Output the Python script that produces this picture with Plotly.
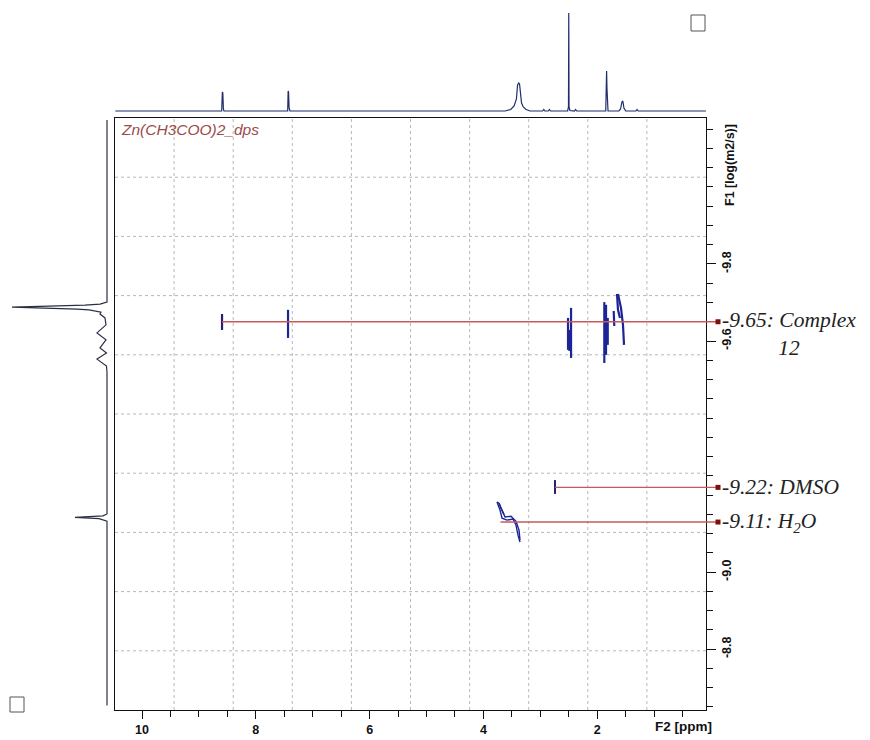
import plotly.graph_objects as go

# ---------------- data ----------------
# 1D 1H projection (top): chemical shift (ppm) vs intensity
h1_ppm = [10.47, 8.60, 8.588, 8.58, 8.57, 8.56, 7.44, 7.432, 7.425, 7.415, 7.40,
          3.62, 3.52, 3.46, 3.42, 3.40, 3.38, 3.365, 3.35, 3.33, 3.30, 3.25, 3.18,
          2.96, 2.94, 2.92, 2.86, 2.84, 2.82, 2.52, 2.505, 2.50, 2.495, 2.48, 2.40, 2.38, 2.36,
          1.85, 1.835, 1.828, 1.82, 1.81, 1.62, 1.59, 1.565, 1.55, 1.53, 1.50, 1.32, 1.30, 1.28, 0.09]
h1_int = [0, 0, 19, 18, 2, 0, 0, 20, 19, 3, 0,
          0, 1.5, 5, 12, 26, 28, 27, 16, 8, 4, 1.5, 0,
          0, 1.5, 0, 0, 1.5, 0, 0, 4, 98, 4, 0.5, 0, 1.5, 0,
          0, 40, 22, 3, 0, 0, 2, 9, 10, 3, 0, 0, 1.5, 0, 0]

# 1D diffusion projection (left): log D vs intensity
proj_logd = [-10.174, -9.701, -9.696, -9.693, -9.688, -9.686, -9.683, -9.681, -9.675, -9.670,
             -9.660, -9.642, -9.621, -9.603, -9.582, -9.569, -9.553, -9.535, -9.519,
             -9.151, -9.146, -9.142, -9.139, -9.132, -8.654]
proj_int = [0, 0, 7, 22, 95, 60, 30, 18, 6, 7,
            2, 1, 10, 1, 7, 0.5, 10, 0.5, 0,
            0, 4, 32, 8, 0, 0]

# 2D DOSY contours (ppm, log D) polylines
complex_contours = [
    ([8.594, 8.594], [-9.670, -9.629]),
    ([7.434, 7.434], [-9.681, -9.608]),
    ([2.460, 2.460], [-9.686, -9.556]),
    ([2.513, 2.513], [-9.660, -9.577]),
    ([2.487, 2.487], [-9.629, -9.574]),
    ([1.875, 1.875], [-9.701, -9.543]),
    ([1.845, 1.845], [-9.694, -9.564]),
    ([1.815, 1.815], [-9.660, -9.590]),
    ([1.710, 1.700], [-9.678, -9.639]),
    ([1.635, 1.582, 1.547, 1.529], [-9.722, -9.686, -9.642, -9.590]),
    ([1.652, 1.635, 1.600], [-9.722, -9.681, -9.660]),
]
dmso_contours = [
    ([2.742, 2.742], [-9.239, -9.203]),
]
water_contours = [
    ([3.761, 3.708, 3.673, 3.585, 3.480, 3.427, 3.392, 3.357],
     [-9.182, -9.161, -9.140, -9.135, -9.138, -9.122, -9.096, -9.078]),
    ([3.726, 3.656, 3.620, 3.515, 3.427, 3.374, 3.357],
     [-9.179, -9.156, -9.143, -9.145, -9.132, -9.109, -9.083]),
    ([3.761, 3.726, 3.690, 3.640], [-9.182, -9.179, -9.165, -9.150]),
]

# Diffusion assignment lines: start ppm, log D, label
assign_start = [8.594, 2.742, 3.70]
assign_logd = [-9.65, -9.22, -9.13]
assign_text = ["-9.65: Complex<br>12", "-9.22: DMSO", "-9.11: H<sub>2</sub>O"]

x_tick_vals = [10, 8, 6, 4, 2]
x_tick_text = ["10", "8", "6", "4", "2"]
y_tick_vals = [-9.8, -9.6, -9.0, -8.8]
y_tick_text = ["-9.8", "-9.6", "-9.0", "-8.8"]

sample_name = "Zn(CH3COO)2_dps"

# ---------------- layout constants ----------------
OFF = 8                      # page body margin
W, H = 862, 732
BOX_L, BOX_R, BOX_T, BOX_B = 115, 706, 118, 710   # screen pixels
X_LEFT, X_RIGHT = 10.475, 0.088
Y_TOP, Y_BOT = -10.179, -8.642
EXT_R = 725
END_PX = 718

def px2ppm(px):
    return X_LEFT + (px - BOX_L) * (X_RIGHT - X_LEFT) / (BOX_R - BOX_L)

def fx(px):
    return (px - OFF) / W

def fy(py):
    return (H - (py - OFF)) / H

contour_col = "#1c2496"
tick_col = "#2a1f6e"
red_col = "#c65a5a"
mark_col = "#7a1010"
font_sans = "Liberation Sans, Arial, sans-serif"
font_serif = "Liberation Serif, Times New Roman, serif"

fig = go.Figure()

fig.add_trace(go.Scatter(x=h1_ppm, y=h1_int, mode="lines", xaxis="x2", yaxis="y2",
                         line=dict(color="#1f2d6b", width=1.2), hoverinfo="skip"))
fig.add_trace(go.Scatter(x=proj_int, y=proj_logd, mode="lines", xaxis="x3", yaxis="y3",
                         line=dict(color="#2b2f45", width=1.2), hoverinfo="skip"))

for xs, ys in complex_contours:
    fig.add_trace(go.Scatter(x=xs, y=ys, mode="lines", xaxis="x", yaxis="y",
                             line=dict(color=contour_col, width=2.2), hoverinfo="skip"))
for xs, ys in water_contours:
    fig.add_trace(go.Scatter(x=xs, y=ys, mode="lines", xaxis="x", yaxis="y",
                             line=dict(color=contour_col, width=1.4), hoverinfo="skip"))

x_end = px2ppm(END_PX)
for xs0, yv in zip(assign_start, assign_logd):
    fig.add_trace(go.Scatter(x=[xs0, x_end], y=[yv, yv], mode="lines", xaxis="x4", yaxis="y4",
                             line=dict(color=red_col, width=1.4), hoverinfo="skip"))
    fig.add_trace(go.Scatter(x=[x_end], y=[yv], mode="markers", xaxis="x4", yaxis="y4",
                             marker=dict(symbol="square", size=5, color=mark_col), hoverinfo="skip"))
fig.add_trace(go.Scatter(x=complex_contours[0][0], y=complex_contours[0][1], mode="lines",
                         xaxis="x", yaxis="y", line=dict(color=tick_col, width=2), hoverinfo="skip"))
for xs, ys in dmso_contours:
    fig.add_trace(go.Scatter(x=xs, y=ys, mode="lines", xaxis="x", yaxis="y",
                             line=dict(color=tick_col, width=2), hoverinfo="skip"))

axis_font = dict(family=font_sans, size=12.5, color="#111", weight="bold")

shapes = []
for i in range(1, 10):
    shapes.append(dict(type="line", xref="x domain", yref="y domain", x0=i / 10, x1=i / 10, y0=0, y1=1,
                       line=dict(color="#b8b8b8", width=1, dash="dot"), layer="below"))
    shapes.append(dict(type="line", xref="x domain", yref="y domain", y0=i / 10, y1=i / 10, x0=0, x1=1,
                       line=dict(color="#b8b8b8", width=1, dash="dot"), layer="below"))
shapes.append(dict(type="rect", xref="paper", yref="paper", x0=fx(691), x1=fx(705), y0=fy(31), y1=fy(15),
                   line=dict(color="#555", width=1)))
shapes.append(dict(type="rect", xref="paper", yref="paper", x0=fx(10), x1=fx(24), y0=fy(712), y1=fy(697),
                   line=dict(color="#555", width=1)))

annotations = [
    dict(text=sample_name, xref="paper", yref="paper", x=fx(119), y=fy(130), xanchor="left", yanchor="middle",
         showarrow=False, font=dict(family=font_sans, size=15.5, color="#9a4b4b", style="italic")),
    dict(text="F1 [log(m2/s)]", xref="paper", yref="paper", x=fx(730), y=fy(165), textangle=-90,
         xanchor="center", yanchor="middle", showarrow=False, font=axis_font),
    dict(text="F2 [ppm]", xref="paper", yref="paper", x=fx(683), y=fy(726),
         xanchor="center", yanchor="middle", showarrow=False,
         font=dict(family=font_sans, size=13.5, color="#111", weight="bold")),
]
for yv, txt in zip(assign_logd, assign_text):
    two = "<br>" in txt
    annotations.append(dict(text=txt, xref="paper", yref="y", x=fx(720), y=yv, xanchor="left",
                            yanchor="middle", align="center", showarrow=False,
                            yshift=-12 if two else 0,
                            font=dict(family=font_serif, size=21.5, color="#222", style="italic")))

fig.update_layout(
    width=W, height=H, autosize=False,
    margin=dict(l=0, r=0, t=0, b=0),
    paper_bgcolor="white", plot_bgcolor="rgba(0,0,0,0)",
    showlegend=False,
    xaxis=dict(domain=[fx(BOX_L), fx(BOX_R)], range=[X_LEFT, X_RIGHT], anchor="y",
               showline=True, mirror=True, linecolor="#111", linewidth=1, showgrid=False, zeroline=False,
               tickmode="array", tickvals=x_tick_vals, ticktext=x_tick_text,
               ticks="outside", ticklen=8, tickcolor="#111", tickfont=axis_font,
               minor=dict(tickmode="linear", tick0=0, dtick=0.5, ticks="outside", ticklen=6,
                          tickcolor="#111", showgrid=False)),
    yaxis=dict(domain=[fy(BOX_B), fy(BOX_T)], range=[Y_BOT, Y_TOP], anchor="x", side="right",
               showline=True, mirror=True, linecolor="#111", linewidth=1, showgrid=False, zeroline=False,
               tickmode="array", tickvals=y_tick_vals, ticktext=y_tick_text, tickangle=-90,
               ticks="outside", ticklen=9, tickcolor="#111", tickfont=axis_font,
               minor=dict(tickmode="linear", tick0=-9.8, dtick=0.05, ticks="outside", ticklen=6,
                          tickcolor="#111", showgrid=False)),
    xaxis2=dict(domain=[fx(BOX_L), fx(BOX_R)], range=[X_LEFT, X_RIGHT], anchor="y2", visible=False),
    yaxis2=dict(domain=[fy(116), fy(8)], range=[-5, 103], anchor="x2", visible=False),
    xaxis3=dict(domain=[fx(8), fx(110)], range=[99, -3], anchor="y3", visible=False),
    yaxis3=dict(domain=[fy(BOX_B), fy(BOX_T)], range=[Y_BOT, Y_TOP], anchor="x3", visible=False),
    xaxis4=dict(domain=[fx(BOX_L), fx(EXT_R)], range=[X_LEFT, px2ppm(EXT_R)], anchor="y4", visible=False),
    yaxis4=dict(domain=[fy(BOX_B), fy(BOX_T)], range=[Y_BOT, Y_TOP], anchor="x4", visible=False),
    shapes=shapes,
    annotations=annotations,
)

fig.write_html("out.html")
